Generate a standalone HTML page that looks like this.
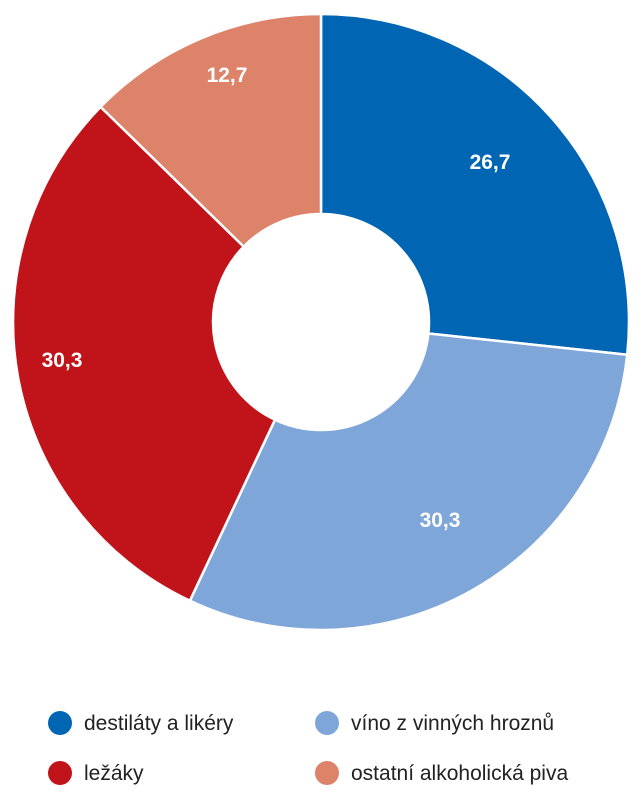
<!DOCTYPE html>
<html><head><meta charset="utf-8"><style>
html,body{margin:0;padding:0;background:#fff;}
svg{display:block;font-family:"Liberation Sans",sans-serif;}
</style></head><body>
<svg width="642" height="800" viewBox="0 0 642 800">
<g stroke="#fff" stroke-width="2.5" stroke-linejoin="round">
<path d="M321,14 A308,308 0 0 1 627.2,354.8 L428.4,333.5 A108,108 0 0 0 321,214 Z" fill="#0066b3"/>
<path d="M627.2,354.8 A308,308 0 0 1 189.9,600.7 L275,419.7 A108,108 0 0 0 428.4,333.5 Z" fill="#7fa6d9"/>
<path d="M189.9,600.7 A308,308 0 0 1 100.6,106.9 L243.7,246.6 A108,108 0 0 0 275,419.7 Z" fill="#c0141a"/>
<path d="M100.6,106.9 A308,308 0 0 1 321,14 L321,214 A108,108 0 0 0 243.7,246.6 Z" fill="#dc836a"/>
</g>
<g fill="#fff" font-size="21" font-weight="bold" text-anchor="middle">
<text x="490" y="169">26,7</text>
<text x="440" y="527">30,3</text>
<text x="62" y="367">30,3</text>
<text x="227" y="82">12,7</text>
</g>
<g font-size="21" fill="#222">
<circle cx="60" cy="723" r="12" fill="#0066b3"/>
<text x="84" y="730">destiláty a likéry</text>
<circle cx="327" cy="723" r="12" fill="#7fa6d9"/>
<text x="351" y="730">víno z vinných hroznů</text>
<circle cx="60" cy="773" r="12" fill="#c0141a"/>
<text x="84" y="780">ležáky</text>
<circle cx="327" cy="773" r="12" fill="#dc836a"/>
<text x="351" y="780">ostatní alkoholická piva</text>
</g>
</svg>
</body></html>
